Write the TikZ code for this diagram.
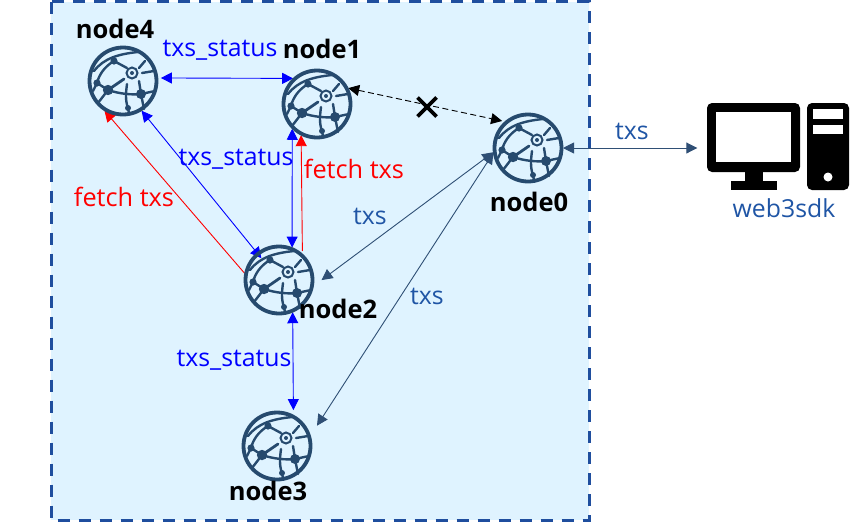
\documentclass[tikz,border=0pt]{standalone}
\usepackage{fontspec}
\setmainfont{Open Sans}
\usetikzlibrary{arrows.meta}
\definecolor{panelfill}{HTML}{DFF3FF}
\definecolor{panelline}{HTML}{1F4E9E}
\definecolor{globecol}{HTML}{264A6E}
\definecolor{linkcol}{HTML}{2F4F75}
\definecolor{txscol}{HTML}{1F55A5}
\tikzset{
  x=1pt,y=-1pt,
  site/.style={circle,minimum size=70pt,inner sep=0pt,outer sep=0pt},
  nodelabel/.style={font=\fontsize{25.5}{28}\selectfont\bfseries,text=black,inner sep=0pt},
  statuslabel/.style={font=\fontsize{24.8}{28}\selectfont,text=blue,inner sep=0pt},
  fetchlabel/.style={font=\fontsize{25.3}{28}\selectfont,text=red,inner sep=0pt},
  txslabel/.style={font=\fontsize{24.8}{28}\selectfont,text=txscol,inner sep=0pt},
  statuslink/.style={blue,line width=.9pt,{Triangle[length=11pt,width=11pt]}-{Triangle[length=11pt,width=11pt]}},
  fetchlink/.style={red,line width=.9pt,-{Triangle[length=11pt,width=11pt]}},
  txslink/.style={linkcol,line width=.9pt,{Triangle[length=11pt,width=11pt]}-{Triangle[length=11pt,width=11pt]}},
  deadlink/.style={black,line width=.9pt,dash pattern=on 6pt off 3.5pt,{Triangle[length=11pt,width=11pt]}-{Triangle[length=11pt,width=11pt]}},
  pics/globe/.style={code={
    \begin{scope}[globecol,line width=2.4pt,line cap=round]
      \draw[line width=3.8pt] (0,0) circle[radius=33.5];
      \draw (-29,-10) .. controls (-19,-23) and (-4,-27) .. (15,-29);
      \draw (-9,-20) -- (4,-13);
      \draw (-9,-20) .. controls (-19,-14) and (-24,-6) .. (-26,2);
      \draw (-26,2) -- (-15,9);
      \draw (-26,2) -- (-30,10);
      \draw (-15,9) -- (-25,22);
      \draw[line width=2.8pt] (-15,9) -- (1,-2);
      \draw (-15,9) .. controls (-3,13) and (9,14) .. (18,13) -- (32,10);
      \draw (18,13) -- (16,0);
      \draw (18,13) -- (21,28);
      \draw (5,27) .. controls (2,19) and (3,11) .. (4,3);
      \draw (5,27) -- (6,32);
      \draw (19,-8) -- (31,-10);
      \draw (16,-13) -- (22,-20);
      \draw[line width=2pt] (9,-8) circle[radius=5.5];
      \fill (9,-8) circle[radius=2];
      \fill (-9,-20) circle[radius=3.6];
      \fill (-26,2) circle[radius=3.6];
      \fill (-15,9) circle[radius=5.2];
      \fill (18,13) circle[radius=5];
      \fill (5,27) circle[radius=3];
    \end{scope}
  }}
}
\begin{document}
\begin{tikzpicture}
\useasboundingbox (0,0) rectangle (861,523);
\fill[panelfill] (51,1.5) rectangle (589,520);
\draw[panelline,line width=3pt,dash pattern=on 12pt off 9pt] (51,1.5) rectangle (589,520);

\node[site] (n4) at (123,81) {};
\node[site] (n1) at (317,104) {};
\node[site] (n0) at (528,148) {};
\node[site] (n2) at (279,280) {};
\node[site] (n3) at (277,446) {};
\node[inner sep=0pt,minimum size=1pt] (pc) at (698,148) {};
\coordinate (cross) at (427,107);

% connectors
\draw[statuslink,shorten <=3pt] (n4.5) -- (n1.133);
\draw[statuslink,shorten >=-7pt] (n4.-58) -- (n2.129);
\draw[statuslink] (n1.225) -- (n2.68);
\draw[statuslink,shorten >=5pt] (n2.-67) -- (n3.62);
\draw[fetchlink] (n2.169) -- (n4.238);
\draw[fetchlink,shorten <=3pt] (n2.48) -- (n1.243);
\draw[deadlink,shorten >=3pt] (n1.27) -- (n0.131);
\draw[txslink,shorten >=10pt] (n0.187) -- (n2.-10);
\draw[txslink,shorten >=12pt] (n0.188) -- (n3.17);
\draw[txslink] (n0.0) -- (pc);

% globes
\pic at (n4) {globe};
\pic at (n1) {globe};
\pic at (n0) {globe};
\pic at (n2) {globe};
\pic at (n3) {globe};

% blocked link mark
\draw[black,line width=3.6pt] (cross) ++(-9.5,-9.5) -- ++(19,19);
\draw[black,line width=3.6pt] (cross) ++(9.5,-9.5) -- ++(-19,19);

% computer
\fill[black,rounded corners=5pt] (707,103) rectangle (800,172);
\fill[white] (716,112) rectangle (791,162);
\fill[black] (745,170) rectangle (763,182);
\fill[black] (731,181) rectangle (777,190);
\fill[black,rounded corners=5pt] (807,103) rectangle (849,190);
\fill[white] (813,109) rectangle (843,119);
\fill[white] (813,125) rectangle (843,134);
\fill[white] (828,177) circle[radius=4.5];

% labels
\node[nodelabel] at (115,29) {node4};
\node[nodelabel] at (322,49) {node1};
\node[nodelabel] at (529,202) {node0};
\node[nodelabel] at (338,309) {node2};
\node[nodelabel] at (268,491) {node3};
\node[statuslabel] at (220,50) {txs\_status};
\node[statuslabel] at (236,159) {txs\_status};
\node[statuslabel] at (234,360) {txs\_status};
\node[fetchlabel] at (124,197) {fetch txs};
\node[fetchlabel] at (354,169) {fetch txs};
\node[txslabel] at (370,216) {txs};
\node[txslabel] at (427,296) {txs};
\node[txslabel] at (632,131) {txs};
\node[txslabel] at (784,208) {web3sdk};
\end{tikzpicture}
\end{document}
